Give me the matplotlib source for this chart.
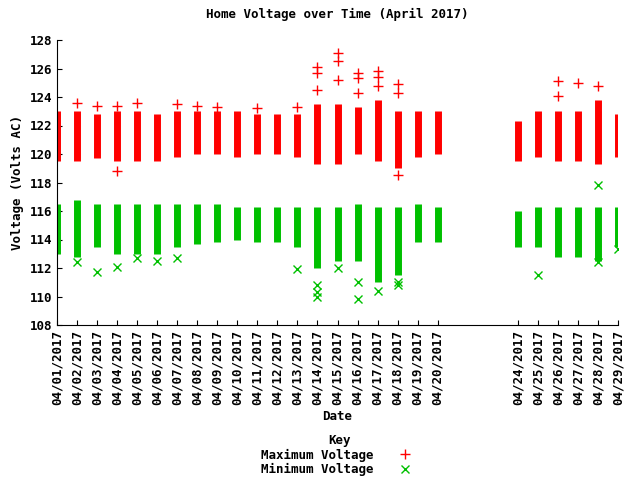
import matplotlib
matplotlib.use("Agg")
import matplotlib.pyplot as plt
import numpy as np

days = [1,2,3,4,5,6,7,8,9,10,11,12,13,14,15,16,17,18,19,20,24,25,26,27,28,29]
max_lo = [119.5,119.5,119.7,119.5,119.5,119.5,119.8,120.0,120.0,119.8,120.0,120.0,119.8,119.3,119.3,120.0,119.5,119.0,119.8,120.0,119.5,119.8,119.5,119.5,119.3,119.8]
max_hi = [123.0,123.0,122.8,123.0,123.0,122.8,123.0,123.0,123.0,123.0,122.8,122.8,122.8,123.5,123.5,123.3,123.8,123.0,123.0,123.0,122.3,123.0,123.0,123.0,123.8,122.8]
min_lo = [113.0,112.8,113.5,113.0,113.0,113.0,113.5,113.7,113.8,114.0,113.8,113.8,113.5,112.0,112.5,112.5,111.0,111.5,113.8,113.8,113.5,113.5,112.8,112.8,112.5,113.5]
min_hi = [116.5,116.8,116.5,116.5,116.5,116.5,116.5,116.5,116.5,116.3,116.3,116.3,116.3,116.3,116.3,116.5,116.3,116.3,116.5,116.3,116.0,116.3,116.3,116.3,116.3,116.3]
max_out_day = [2,3,4,4,5,7,8,9,11,14,14,14,15,15,15,16,16,16,17,17,17,18,18,18,26,26,27,28,13]
max_out_val = [123.6,123.4,123.4,118.8,123.6,123.5,123.4,123.3,123.2,126.1,125.7,124.5,127.1,126.5,125.2,125.7,125.3,124.3,125.8,125.4,124.8,124.9,124.3,118.5,125.1,124.1,125.0,124.8,123.3]
min_out_day = [2,3,4,5,6,7,13,14,14,14,15,16,16,17,18,18,25,28,28,29]
min_out_val = [112.4,111.7,112.1,112.7,112.5,112.7,111.9,110.0,110.3,110.8,112.0,109.8,111.0,110.4,110.8,111.0,111.5,117.8,112.4,113.3]
tick_days = [1,2,3,4,5,6,7,8,9,10,11,12,13,14,15,16,17,18,19,20,24,25,26,27,28,29]
tick_labels = ["04/%02d/2017" % d for d in tick_days]

font = "DejaVu Sans Mono"
plt.rcParams["font.family"] = font
plt.rcParams["font.weight"] = "bold"
fig = plt.figure(figsize=(6.4, 4.8), dpi=100)
ax = fig.add_axes([57/640, 1-325/480, (618-57)/640, (325-40)/480])

x = np.array(days) - 1
ax.vlines(x, max_lo, max_hi, colors="#ff0000", lw=5)
ax.vlines(x, min_lo, min_hi, colors="#00c000", lw=5)
ax.plot(np.array(max_out_day)-1, max_out_val, "+", color="#ff0000", ms=7, mew=1, ls="none")
ax.plot(np.array(min_out_day)-1, min_out_val, "x", color="#00c000", ms=6, mew=1, ls="none")

ax.set_xlim(0, 28)
ax.set_ylim(108, 128)
ax.set_yticks(range(108, 129, 2))
ax.set_xticks(np.array(tick_days)-1)
ax.set_xticklabels(tick_labels, rotation=90, fontsize=9, fontweight="bold")
ax.tick_params(axis="y", labelsize=9, direction="in")
ax.tick_params(axis="x", direction="in")
for s in ["top", "right"]:
    ax.spines[s].set_visible(False)
ax.set_title("Home Voltage over Time (April 2017)", fontsize=9, fontweight="bold", pad=16)
ax.set_xlabel("Date", fontsize=9, fontweight="bold")
ax.set_ylabel("Voltage (Volts AC)", fontsize=9, fontweight="bold")

h1, = ax.plot([], [], "+", color="#ff0000", ms=7)
h2, = ax.plot([], [], "x", color="#00c000", ms=6)
leg = fig.legend([h1, h2], ["Maximum Voltage", "Minimum Voltage"], title="Key",
                 loc="lower center", bbox_to_anchor=(0.53, -0.01), frameon=False,
                 markerfirst=False, fontsize=9, title_fontproperties={"family": font, "weight": "bold", "size": 9},
                 labelspacing=0.1, borderpad=0.2, handletextpad=1.5)
fig.savefig("out.png", dpi=100)
